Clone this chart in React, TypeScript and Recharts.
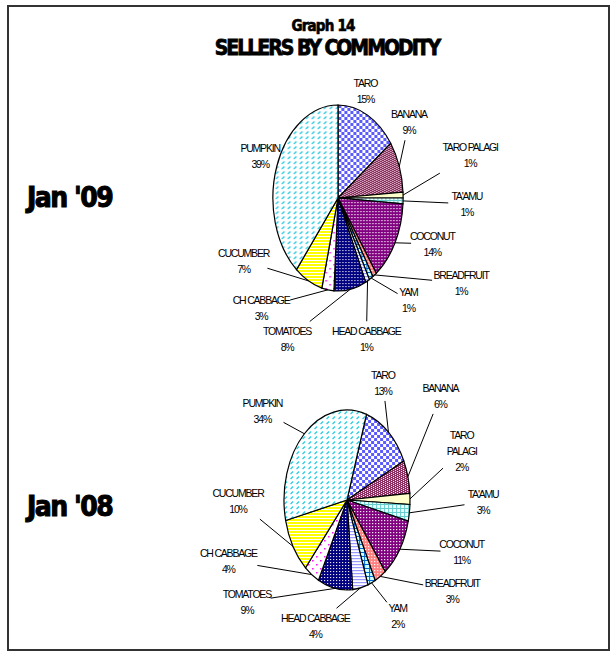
import { PieChart, Pie, Cell } from "recharts";

const commodities = [
  "TARO",
  "BANANA",
  "TARO PALAGI",
  "TA'AMU",
  "COCONUT",
  "BREADFRUIT",
  "YAM",
  "HEAD CABBAGE",
  "TOMATOES",
  "CH CABBAGE",
  "CUCUMBER",
  "PUMPKIN",
];
const jan09Share = [15, 9, 1, 1, 14, 1, 1, 1, 8, 3, 7, 39];
const jan08Share = [13, 6, 2, 3, 11, 3, 2, 4, 9, 4, 10, 34];

const fillIds = [
  "taro",
  "banana",
  "palagi",
  "taamu",
  "coconut",
  "breadfruit",
  "yam",
  "headcab",
  "tomato",
  "chcab",
  "cucumber",
  "pumpkin",
];

// perspective squash of the pie (width / height)
const K = 0.7;

// label placement: turn (deg, clockwise) from slice middle, distance in radii
type Place = { turn: number; dist: number; wrap?: boolean };
const place09: Place[] = [
  { turn: -7, dist: 1.23 },
  { turn: -17, dist: 1.36 },
  { turn: -11, dist: 2.08 },
  { turn: 0, dist: 1.98 },
  { turn: -10, dist: 1.53 },
  { turn: -30, dist: 2.1 },
  { turn: -14, dist: 1.54 },
  { turn: 11, dist: 1.58 },
  { turn: 38, dist: 1.71 },
  { turn: 36, dist: 1.67 },
  { turn: 38, dist: 1.6 },
  { turn: 1, dist: 1.28 },
];
const place08: Place[] = [
  { turn: -17.5, dist: 1.42 },
  { turn: -23, dist: 1.88 },
  { turn: -16, dist: 1.9, wrap: true },
  { turn: -7.6, dist: 2.16 },
  { turn: -15.5, dist: 1.91 },
  { turn: -27, dist: 1.95 },
  { turn: -9, dist: 1.52 },
  { turn: 32, dist: 1.49 },
  { turn: 43.7, dist: 1.95 },
  { turn: 36.3, dist: 2.0 },
  { turn: 30.6, dist: 1.73 },
  { turn: -11, dist: 1.67 },
];

const top = { cx: 338, cy: 198, r: 93 };
const bottom = { cx: 347, cy: 500, r: 90 };

const data09 = commodities.map((name, i) => ({ name, value: jan09Share[i] }));
const data08 = commodities.map((name, i) => ({ name, value: jan08Share[i] }));

const rad = (a: number) => (a * Math.PI) / 180;
const labelFont = "'Liberation Sans', Arial, sans-serif";

const makeLabel = (places: Place[]) => (props: any) => {
  const { cx, cy, midAngle, outerRadius, index, name, value } = props;
  const p = places[index];
  const mid = 90 - midAngle;
  const sx = cx + K * outerRadius * Math.sin(rad(mid));
  const sy = cy - outerRadius * Math.cos(rad(mid));
  const a = mid + p.turn;
  const lx = cx + K * p.dist * outerRadius * Math.sin(rad(a));
  const ly = cy - p.dist * outerRadius * Math.cos(rad(a));
  const lines = p.wrap ? [...String(name).split(" "), `${value}%`] : [name, `${value}%`];
  const lh = 16;
  const longest = Math.max(...lines.map((s) => String(s).length));
  const hw = (longest * 5.2) / 2 + 3;
  const hh = (lines.length * lh) / 2 + 2;
  const dx = sx - lx;
  const dy = sy - ly;
  const t = Math.min(dx === 0 ? Infinity : hw / Math.abs(dx), dy === 0 ? Infinity : hh / Math.abs(dy));
  const ex = lx + dx * t;
  const ey = ly + dy * t;
  const showLine = t < 1 && Math.hypot(sx - ex, sy - ey) > 10;
  return (
    <g>
      {showLine && <line x1={sx} y1={sy} x2={ex} y2={ey} stroke="#000" strokeWidth={1} />}
      <text textAnchor="middle" fontFamily={labelFont} fontSize={10.5} letterSpacing={-1.2} fill="#000">
        {lines.map((s, i) => (
          <tspan key={i} x={lx} y={ly + (i - (lines.length - 1) / 2) * lh} dominantBaseline="central">
            {s}
          </tspan>
        ))}
      </text>
    </g>
  );
};

const patternDefs = (pre: string) => {
  const pt = `scale(${1 / K} 1)`;
  const common = { patternUnits: "userSpaceOnUse", patternTransform: pt } as any;
  return (
    <defs>
      <pattern id={pre + "taro"} width={6} height={6} {...common}>
        <rect width={6} height={6} fill="#fff" />
        <rect width={3} height={3} fill="#5A5AFF" />
        <rect x={3} y={3} width={3} height={3} fill="#5A5AFF" />
      </pattern>
      <pattern id={pre + "banana"} width={4} height={2} {...common}>
        <rect width={4} height={2} fill="#fff" />
        <rect width={3} height={1} fill="#8B2A5C" />
        <rect x={2} y={1} width={3} height={1} fill="#8B2A5C" />
        <rect x={0} y={1} width={1} height={1} fill="#8B2A5C" />
      </pattern>
      <pattern id={pre + "palagi"} width={4} height={4} {...common}>
        <rect width={4} height={4} fill="#FFFFCC" />
      </pattern>
      <pattern id={pre + "taamu"} width={4} height={4} {...common}>
        <rect width={4} height={4} fill="#E6FFFF" />
        <rect width={4} height={1} fill="#66CCCC" />
        <rect width={1} height={4} fill="#66CCCC" />
      </pattern>
      <pattern id={pre + "coconut"} width={3} height={3} {...common}>
        <rect width={3} height={3} fill="#800080" />
        <rect x={1} y={1} width={1.2} height={1.2} fill="#fff" />
      </pattern>
      <pattern id={pre + "breadfruit"} width={3} height={3} {...common}>
        <rect width={3} height={3} fill="#FF8080" />
        <rect width={1.2} height={1.2} fill="#fff" />
      </pattern>
      <pattern id={pre + "yam"} width={5} height={4} {...common}>
        <rect width={5} height={4} fill="#CCFFFF" />
        <rect width={5} height={1} fill="#0066CC" />
        <rect width={1} height={4} fill="#0066CC" />
      </pattern>
      <pattern id={pre + "headcab"} width={3} height={3} {...common}>
        <rect width={3} height={3} fill="#fff" />
        <rect width={3} height={1.2} fill="#9999FF" />
      </pattern>
      <pattern id={pre + "tomato"} width={3} height={3} {...common}>
        <rect width={3} height={3} fill="#000080" />
        <rect x={1} y={1} width={1.1} height={1.1} fill="#fff" />
      </pattern>
      <pattern id={pre + "chcab"} width={8} height={8} {...common}>
        <rect width={8} height={8} fill="#fff" />
        <rect width={1.5} height={1.5} fill="#FF00FF" />
        <rect x={4} y={4} width={1.5} height={1.5} fill="#FF00FF" />
      </pattern>
      <pattern id={pre + "cucumber"} width={3} height={3} {...common}>
        <rect width={3} height={3} fill="#fff" />
        <rect width={3} height={2} fill="#FFFF00" />
      </pattern>
      <pattern id={pre + "pumpkin"} width={6} height={5} {...common}>
        <rect width={6} height={5} fill="#fff" />
        <line x1={0.5} y1={4} x2={3} y2={1.5} stroke="#20C8E0" strokeWidth={1.2} />
      </pattern>
    </defs>
  );
};

const css = `
.pie09 .recharts-sector, .pie08 .recharts-sector { vector-effect: non-scaling-stroke; }
.pie09 .recharts-sector { transform-origin: ${top.cx}px ${top.cy}px; transform: scaleX(${K}); }
.pie08 .recharts-sector { transform-origin: ${bottom.cx}px ${bottom.cy}px; transform: scaleX(${K}); }
`;

const heavy = "'DejaVu Sans Condensed', 'DejaVu Sans', sans-serif";

export default function App() {
  return (
    <div style={{ position: "absolute", left: 0, top: 0, width: 613, height: 656, background: "#fff" }}>
      <style>{css}</style>
      <div
        style={{
          position: "absolute",
          left: 0,
          width: 646,
          top: 16,
          textAlign: "center",
          fontFamily: heavy,
          fontWeight: 700,
          fontSize: 15,
          letterSpacing: -0.8,
          WebkitTextStroke: "0.6px #000",
          lineHeight: "20px",
        }}
      >
        Graph 14
      </div>
      <div
        style={{
          position: "absolute",
          left: 0,
          width: 654,
          top: 36,
          textAlign: "center",
          fontFamily: heavy,
          fontWeight: 700,
          fontSize: 21,
          letterSpacing: -2,
          WebkitTextStroke: "0.8px #000",
          lineHeight: "24px",
        }}
      >
        SELLERS BY COMMODITY
      </div>
      <div
        style={{
          position: "absolute",
          left: 27,
          top: 181,
          fontFamily: heavy,
          fontWeight: 700,
          fontSize: 28,
          letterSpacing: -1.5,
          WebkitTextStroke: "1px #000",
          lineHeight: "34px",
        }}
      >
        Jan '09
      </div>
      <div
        style={{
          position: "absolute",
          left: 27,
          top: 490,
          fontFamily: heavy,
          fontWeight: 700,
          fontSize: 28,
          letterSpacing: -1.5,
          WebkitTextStroke: "1px #000",
          lineHeight: "34px",
        }}
      >
        Jan '08
      </div>
      <div className="pie09" style={{ position: "absolute", left: 0, top: 0 }}>
        <PieChart width={613} height={656} margin={{ top: 0, right: 0, bottom: 0, left: 0 }}>
          {patternDefs("a")}
          <Pie
            data={data09}
            dataKey="value"
            nameKey="name"
            cx={top.cx}
            cy={top.cy}
            outerRadius={top.r}
            startAngle={90}
            endAngle={-270}
            stroke="#000"
            strokeWidth={1.2}
            label={makeLabel(place09)}
            labelLine={false}
            isAnimationActive={false}
          >
            {data09.map((d, i) => (
              <Cell key={d.name} fill={`url(#a${fillIds[i]})`} />
            ))}
          </Pie>
        </PieChart>
      </div>
      <div className="pie08" style={{ position: "absolute", left: 0, top: 0 }}>
        <PieChart width={613} height={656} margin={{ top: 0, right: 0, bottom: 0, left: 0 }}>
          {patternDefs("b")}
          <Pie
            data={data08}
            dataKey="value"
            nameKey="name"
            cx={bottom.cx}
            cy={bottom.cy}
            outerRadius={bottom.r}
            startAngle={72}
            endAngle={-288}
            stroke="#000"
            strokeWidth={1.2}
            label={makeLabel(place08)}
            labelLine={false}
            isAnimationActive={false}
          >
            {data08.map((d, i) => (
              <Cell key={d.name} fill={`url(#b${fillIds[i]})`} />
            ))}
          </Pie>
        </PieChart>
      </div>
      <div
        style={{
          position: "absolute",
          left: 7,
          top: 5,
          width: 603,
          height: 646,
          border: "2px solid #333",
          boxSizing: "border-box",
          pointerEvents: "none",
          zIndex: 5,
        }}
      />
    </div>
  );
}
